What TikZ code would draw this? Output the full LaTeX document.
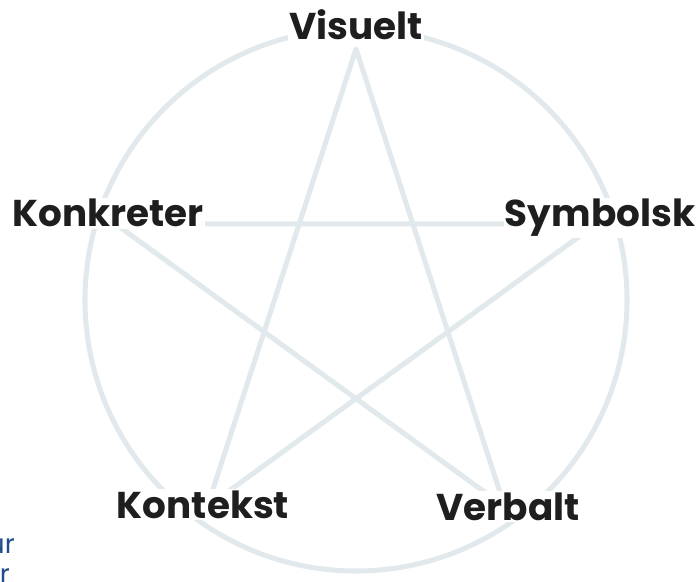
\documentclass[tikz,border=0pt]{standalone}
\usepackage{fontspec}
\setmainfont{Poppins}
\usepackage{tikz}

\definecolor{starline}{RGB}{226,233,237}
\definecolor{labelink}{RGB}{30,30,30}
\definecolor{sideblue}{RGB}{32,78,140}

\begin{document}
\begin{tikzpicture}[x=0.75pt, y=0.75pt,
  ring/.style={draw=starline, line width=3.8pt},
  corner/.style={fill=white, text=labelink, inner sep=1pt, anchor=base,
    font=\fontsize{28}{32}\selectfont\bfseries},
  sidetext/.style={text=sideblue, inner sep=0pt, anchor=base east,
    font=\fontsize{20}{24}\selectfont}]
\useasboundingbox (0,0) rectangle (698,581);
\clip (0,0) rectangle (698,581);
% circle and star
\draw[ring] (356,281) circle (271);
\foreach \i in {0,...,4}
  \coordinate (v\i) at ([shift={(356,279)}]90+72*\i:253);
\draw[ring, line join=round] (v0) -- (v2) -- (v4) -- (v1) -- (v3) -- cycle;
% labels at the points
\node[corner] (visuelt) at (356,541) {Visuelt};
\node[corner] (konkreter) at (108,354) {Konkreter};
\node[corner] (symbolsk) at (600,354) {Symbolsk};
\node[corner] (kontekst) at (203,63) {Kontekst};
\node[corner] (verbalt) at (508,61) {Verbalt};
% cut text at the left edge
\node[sidetext] (cutone) at (15,28) {ur};
\node[sidetext] (cuttwo) at (10,-2) {r};
\end{tikzpicture}
\end{document}
